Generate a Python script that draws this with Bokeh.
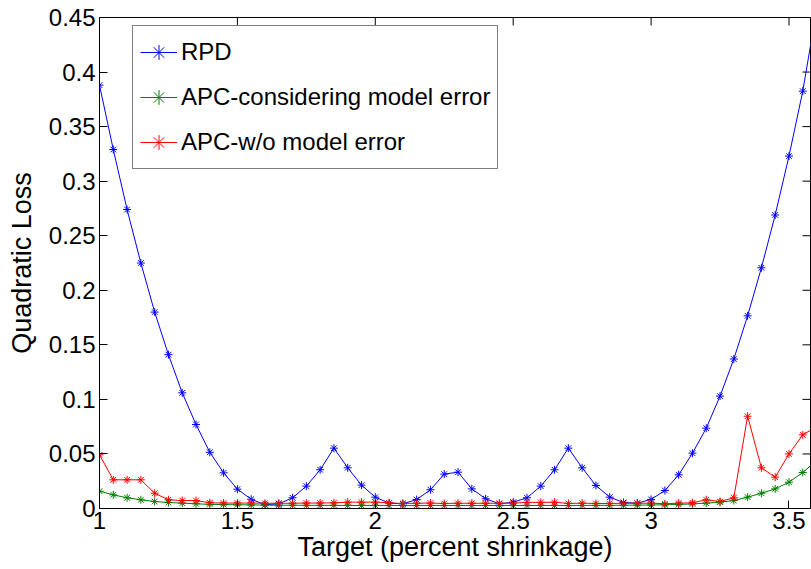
import math
from bokeh.plotting import figure
from bokeh.models import Range1d, LinearAxis, FixedTicker, Legend, LegendItem
from bokeh.embed import file_html
from bokeh.resources import INLINE

# ---------------- data ----------------
x_vals = [1.00, 1.05, 1.10, 1.15, 1.20, 1.25, 1.30, 1.35, 1.40, 1.45,
          1.50, 1.55, 1.60, 1.65, 1.70, 1.75, 1.80, 1.85, 1.90, 1.95,
          2.00, 2.05, 2.10, 2.15, 2.20, 2.25, 2.30, 2.35, 2.40, 2.45,
          2.50, 2.55, 2.60, 2.65, 2.70, 2.75, 2.80, 2.85, 2.90, 2.95,
          3.00, 3.05, 3.10, 3.15, 3.20, 3.25, 3.30, 3.35, 3.40, 3.45,
          3.50, 3.55, 3.60]

rpd = [0.388, 0.329, 0.274, 0.225, 0.180, 0.141, 0.106, 0.077, 0.0515, 0.0327,
       0.0177, 0.0085, 0.0034, 0.0043, 0.0098, 0.0205, 0.0355, 0.0553, 0.0373, 0.0214,
       0.0104, 0.0049, 0.0043, 0.0082, 0.0172, 0.0315, 0.0333, 0.0180, 0.0089, 0.0043,
       0.0058, 0.0098, 0.0205, 0.0355, 0.0553, 0.0373, 0.0211, 0.0104, 0.0055, 0.0049,
       0.0083, 0.0165, 0.0309, 0.0507, 0.0736, 0.103, 0.137, 0.1766, 0.2206, 0.269,
       0.323, 0.3825, 0.457]

apc_model = [0.0159, 0.0125, 0.0098, 0.0080, 0.0064, 0.0055, 0.0049, 0.0043, 0.0038, 0.0036,
             0.0034, 0.0033, 0.0031, 0.0030, 0.0030, 0.0029, 0.0029, 0.0029, 0.0028, 0.0028,
             0.0028, 0.0028, 0.0028, 0.0028, 0.0028, 0.0028, 0.0028, 0.0028, 0.0028, 0.0028,
             0.0028, 0.0028, 0.0028, 0.0028, 0.0028, 0.0028, 0.0029, 0.0029, 0.0030, 0.0031,
             0.0032, 0.0034, 0.0037, 0.0042, 0.0049, 0.0058, 0.0073, 0.0104, 0.0140, 0.0180,
             0.0241, 0.0330, 0.0440]

apc_wo = [0.0492, 0.0263, 0.0263, 0.0263, 0.0140, 0.0080, 0.0073, 0.0073, 0.0052, 0.0050,
          0.0050, 0.0050, 0.0048, 0.0048, 0.0048, 0.0050, 0.0050, 0.0052, 0.0058, 0.0058,
          0.0058, 0.0052, 0.0046, 0.0048, 0.0050, 0.0046, 0.0048, 0.0048, 0.0048, 0.0048,
          0.0049, 0.0056, 0.0056, 0.0058, 0.0046, 0.0049, 0.0046, 0.0046, 0.0048, 0.0048,
          0.0049, 0.0043, 0.0049, 0.0052, 0.0080, 0.0064, 0.0098, 0.0846, 0.0373, 0.0287,
          0.0500, 0.0675, 0.0750]

series_names = ["RPD", "APC-considering model error", "APC-w/o model error"]
series_colors = ["#0000ff", "#008000", "#ff0000"]

x_ticks = [1, 1.5, 2, 2.5, 3, 3.5]
x_tick_labels = ["1", "1.5", "2", "2.5", "3", "3.5"]
y_ticks = [0, 0.05, 0.1, 0.15, 0.2, 0.25, 0.3, 0.35, 0.4, 0.45]
y_tick_labels = ["0", "0.05", "0.1", "0.15", "0.2", "0.25", "0.3", "0.35", "0.4", "0.45"]
x_lim = [1, 3.578]
y_lim = [0, 0.45]

x_title = "Target (percent shrinkage)"
y_title = "Quadratic Loss"

FONT = "Liberation Sans"

# ---------------- figure ----------------
p = figure(width=811, height=569, output_backend="svg", toolbar_location=None,
           x_range=Range1d(*x_lim), y_range=Range1d(*y_lim),
           min_border_left=99, min_border_right=1, min_border_top=17, min_border_bottom=61,
           x_axis_location=None, y_axis_location=None)
p.background_fill_color = "white"
p.border_fill_color = "white"
p.outline_line_color = "black"
p.outline_line_width = 1
p.xgrid.visible = False
p.ygrid.visible = False

def style_axis(ax, ticks, labels):
    ax.ticker = FixedTicker(ticks=ticks)
    ax.major_label_overrides = {t: l for t, l in zip(ticks, labels)}
    ax.axis_line_color = "black"
    ax.axis_line_width = 1
    ax.major_tick_line_color = "black"
    ax.major_tick_in = 8
    ax.major_tick_out = 0
    ax.minor_tick_line_color = None
    ax.major_label_text_font = FONT
    ax.major_label_text_color = "black"
    ax.major_label_text_font_size = "24px"
    ax.axis_label_text_font = FONT
    ax.axis_label_text_font_style = "normal"
    ax.axis_label_text_color = "black"
    ax.axis_label_text_font_size = "27px"

xb = LinearAxis(axis_label=x_title)
style_axis(xb, x_ticks, x_tick_labels)
xb.major_label_standoff = 3
xb.axis_label_standoff = 0
p.add_layout(xb, "below")

yl = LinearAxis(axis_label=y_title)
style_axis(yl, y_ticks, y_tick_labels)
yl.major_label_standoff = 4
yl.axis_label_standoff = 9
p.add_layout(yl, "left")

# inward tick marks on the top and right edges of the box (MATLAB style)
p.scatter(x_ticks, [y_lim[1]] * len(x_ticks), marker="dash", angle=math.pi / 2,
          size=16, line_color="black", line_width=1)
p.scatter([x_lim[1]] * len(y_ticks), y_ticks, marker="dash",
          size=16, line_color="black", line_width=1)

items = []
for ys, name, col in zip([rpd, apc_model, apc_wo], series_names, series_colors):
    r1 = p.line(x_vals, ys, line_color=col, line_width=1)
    r2 = p.scatter(x_vals, ys, marker="asterisk", size=8, line_color=col, line_width=1)
    items.append(LegendItem(label=name, renderers=[r1, r2]))

legend = Legend(items=items, location=(33, 339))
legend.label_text_font = FONT
legend.label_text_font_size = "24px"
legend.label_text_color = "black"
legend.border_line_color = "black"
legend.border_line_width = 1
legend.background_fill_color = "white"
legend.background_fill_alpha = 1
legend.padding = 7
legend.spacing = 7
legend.margin = 0
legend.glyph_width = 37
legend.glyph_height = 38
legend.label_height = 38
legend.label_standoff = 4
p.add_layout(legend, "center")

open("out.html", "w").write(file_html(p, INLINE))
